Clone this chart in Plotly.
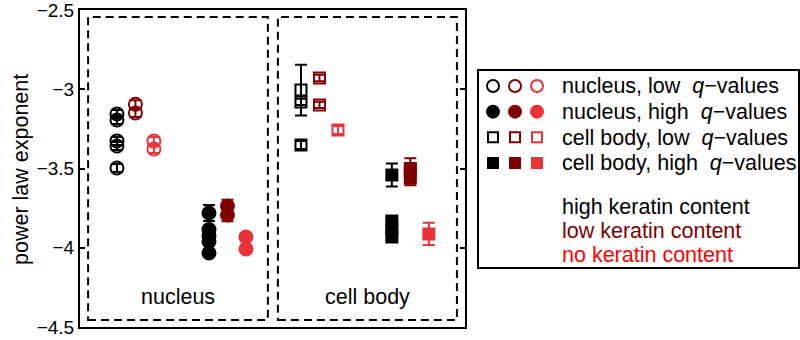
import plotly.graph_objects as go

# colours for the three keratin levels
colors = ["black", "#800000", "#eb3237"]
text_colors = ["black", "#800000", "#ff0000"]
keratin_labels = ["high keratin content", "low keratin content", "no keratin content"]

# power law exponents, one list per keratin level (high, low, none)
nuc_low = [[-3.156, -3.194, -3.326, -3.358, -3.497], [-3.095, -3.15], [-3.327, -3.377]]
nuc_low_err = [[0.025, 0.025, 0.025, 0.025, 0.025], [0.025, 0.025], [0.025, 0.025]]

nuc_high = [[-3.781, -3.885, -3.925, -3.96, -4.033], [-3.737, -3.793], [-3.932, -4.008]]
nuc_high_err = [[0.05, 0.02, 0.02, 0.02, 0.02], [0.04, 0.04], [0.02, 0.02]]

cell_low = [[-3.005, -3.08, -3.352], [-2.929, -3.099], [-3.257]]
cell_low_err = [[0.16, 0.02, 0.025], [0.02, 0.02], [0.025]]

cell_high = [[-3.541, -3.831, -3.882, -3.932], [-3.50, -3.52, -3.56], [-3.913]]
cell_high_err = [[0.073, 0.02, 0.02, 0.02], [0.02, 0.085, 0.02], [0.07]]

groups = [
    ("nucleus, low", nuc_low, nuc_low_err, "circle-open", 0.96),
    ("nucleus, high", nuc_high, nuc_high_err, "circle", 3.35),
    ("cell body, low", cell_low, cell_low_err, "square-open", 5.74),
    ("cell body, high", cell_high, cell_high_err, "square", 8.10),
]

fig = go.Figure()

for name, vals, errs, sym, x0 in groups:
    for k in range(3):
        size = 13 if "circle" in sym else 11
        fig.add_trace(go.Scatter(
            x=[x0 + 0.48 * k] * len(vals[k]), y=vals[k],
            mode="markers",
            marker=dict(symbol=sym, size=size, color=colors[k],
                        line=dict(width=2, color=colors[k])),
            error_y=dict(type="data", array=errs[k], color=colors[k],
                         thickness=2, width=6),
            showlegend=False,
        ))

# hand-made legend symbols on their own little axes
for row, (name, vals, errs, sym, x0) in enumerate(groups):
    size = 12 if "circle" in sym else 10
    fig.add_trace(go.Scatter(
        x=[0, 1, 2], y=[row, row, row], xaxis="x2", yaxis="y2",
        mode="markers",
        marker=dict(symbol=sym, size=size, color=colors,
                    line=dict(width=2, color=colors)),
        showlegend=False,
    ))

font = "Liberation Sans, Arial, sans-serif"
fs = 21.5

# dashed boxes round the two panels
for bx0, bx1, label in [(0.21, 4.88, "nucleus"), (5.14, 9.79, "cell body")]:
    fig.add_shape(type="rect", xref="x", yref="y", x0=bx0, x1=bx1, y0=-4.456, y1=-2.544,
                  line=dict(color="black", width=2, dash="8px,5px"))
    fig.add_annotation(x=(bx0 + bx1) / 2, y=-4.31, xref="x", yref="y", text=label,
                       showarrow=False, font=dict(size=fs, color="black", family=font))

# legend box and texts
fig.add_shape(type="rect", xref="paper", yref="paper", x0=478 / 800, x1=799 / 800,
              y0=1 - 268 / 340, y1=1 - 70 / 340, line=dict(color="black", width=2))
legend_rows = [86, 112, 138, 163]
for (name, *_), py in zip(groups, legend_rows):
    fig.add_annotation(x=560 / 800, y=1 - py / 340, xref="paper", yref="paper",
                       xanchor="left", yanchor="middle", showarrow=False,
                       text=name + " &nbsp;<i>q</i>\u2212values",
                       font=dict(size=fs, color="black", family=font))
for lab, col, py in zip(keratin_labels, text_colors, [207, 231, 255]):
    fig.add_annotation(x=560 / 800, y=1 - py / 340, xref="paper", yref="paper",
                       xanchor="left", yanchor="middle", showarrow=False, text=lab,
                       font=dict(size=fs, color=col, family=font))

# y title
fig.add_annotation(x=7 / 800, y=1 - 170 / 340, xref="paper", yref="paper",
                   xanchor="left", text="power law exponent", textangle=-90,
                   showarrow=False, font=dict(size=fs, color="black", family=font))

fig.update_layout(
    width=800, height=340,
    margin=dict(l=0, r=0, t=0, b=0),
    paper_bgcolor="white", plot_bgcolor="white",
    font=dict(family=font, size=fs, color="black"),
    xaxis=dict(domain=[80 / 800, 465 / 800], range=[0, 10], showgrid=False,
               zeroline=False, showticklabels=False, ticks="",
               showline=True, linecolor="black", linewidth=2, mirror=True),
    yaxis=dict(domain=[1 - 327 / 340, 1 - 10 / 340], range=[-4.5, -2.5],
               tickvals=[-2.5, -3, -3.5, -4, -4.5], showgrid=False, zeroline=False,
               ticks="inside", ticklen=5, tickwidth=1.5, tickcolor="black",
               showline=True, linecolor="black", linewidth=2, mirror="ticks",
               automargin=False, ticklabeloverflow="allow", tickfont=dict(size=19)),
    xaxis2=dict(domain=[482 / 800, 548 / 800], range=[-0.5, 2.5], visible=False,
                anchor="y2"),
    yaxis2=dict(domain=[1 - 175.8 / 340, 1 - 73.2 / 340], range=[3.5, -0.5],
                visible=False, anchor="x2"),
)

fig.write_html("out.html", config={"displayModeBar": False},
               post_script="document.body.style.margin='0';")
